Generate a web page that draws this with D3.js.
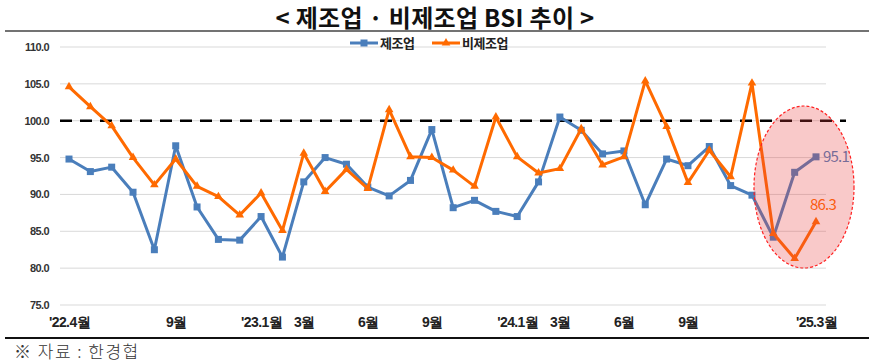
<!DOCTYPE html>
<html>
<head>
  <meta charset="utf-8">
  <title>제조업 · 비제조업 BSI 추이</title>
  <script src="https://d3js.org/d3.v7.min.js"></script>
  <style>
    body { margin: 0; background: #fff; }
    svg { display: block; font-family: "Noto Sans CJK KR", "Noto Sans", sans-serif; }
    .grid line { stroke: #d9d9d9; stroke-width: 1; }
    .line { fill: none; stroke-width: 3; stroke-linejoin: round; }
  </style>
</head>
<body>
  <div class="chart"></div>
  <script>
    // 월 (2022.4 ~ 2025.3)
    const months = d3.range(36);
    // x축 표시 라벨 (인덱스 -> 텍스트)
    const tickIndex = [0, 5, 9, 11, 14, 17, 21, 23, 26, 29, 35];
    const tickText = ["'22.4월", "9월", "'23.1월", "3월", "6월", "9월", "'24.1월", "3월", "6월", "9월", "'25.3월"];
    const yTicks = [75, 80, 85, 90, 95, 100, 105, 110];

    // 제조업 BSI
    const manufacturing = [94.8, 93.1, 93.7, 90.3, 82.5, 96.6, 88.3, 83.9, 83.8, 87.0,
      81.5, 91.7, 95.0, 94.1, 91.0, 89.8, 91.9, 98.8, 88.2, 89.2,
      87.7, 87.0, 91.7, 100.5, 98.7, 95.5, 95.9, 88.6, 94.8, 93.9,
      96.5, 91.2, 89.9, 84.2, 93.0, 95.1];
    // 비제조업 BSI
    const nonManufacturing = [104.6, 101.9, 99.3, 95.0, 91.3, 94.8, 91.1, 89.7, 87.2, 90.2,
      85.1, 95.6, 90.4, 93.4, 90.8, 101.5, 95.1, 95.0, 93.3, 91.1,
      100.5, 95.1, 92.9, 93.5, 98.9, 94.0, 95.1, 105.4, 99.2, 91.6,
      96.0, 92.4, 105.1, 84.7, 81.3, 86.3];

    const W = 874, H = 363;
    const svg = d3.select(".chart").append("svg")
      .attr("width", W).attr("height", H);

    // 제목
    svg.append("text")
      .attr("x", 435).attr("y", 27)
      .attr("text-anchor", "middle")
      .attr("font-size", 24).attr("font-weight", 700)
      .attr("letter-spacing", 0.3)
      .attr("fill", "#111")
      .text("< 제조업 · 비제조업 BSI 추이 >");
    svg.append("line")
      .attr("x1", 5).attr("x2", 869).attr("y1", 31).attr("y2", 31)
      .attr("stroke", "#444").attr("stroke-width", 1.5);

    const x = d3.scaleLinear().domain([0, 35]).range([69, 816]);
    const y = d3.scaleLinear().domain([75, 110]).range([305, 47]);

    // 격자선
    svg.append("g").attr("class", "grid")
      .selectAll("line").data(yTicks).join("line")
      .attr("x1", 60).attr("x2", 826)
      .attr("y1", d => y(d)).attr("y2", d => y(d));

    // y축
    const yAxis = svg.append("g")
      .attr("transform", "translate(52,0)")
      .call(d3.axisLeft(y).tickValues(yTicks).tickFormat(d3.format(".1f")).tickSize(0));
    yAxis.select(".domain").remove();
    yAxis.selectAll("text")
      .attr("font-size", 11).attr("font-weight", 700)
      .attr("letter-spacing", -0.6).attr("fill", "#333").attr("dx", 0);

    // x축 라벨
    const xAxis = svg.append("g")
      .attr("transform", "translate(0,314)")
      .call(d3.axisBottom(x).tickValues(tickIndex)
        .tickFormat((d, i) => tickText[i]).tickSize(0));
    xAxis.select(".domain").remove();
    xAxis.selectAll("text")
      .attr("font-size", 14).attr("font-weight", 700)
      .attr("letter-spacing", -0.6).attr("fill", "#222");

    // 기준선 100
    svg.append("line")
      .attr("x1", 60).attr("x2", 846)
      .attr("y1", y(100)).attr("y2", y(100))
      .attr("stroke", "#000").attr("stroke-width", 2.5)
      .attr("stroke-dasharray", "12,8");

    const line = d3.line().x((d, i) => x(i)).y(d => y(d));

    // 제조업
    svg.append("path").datum(manufacturing)
      .attr("class", "line").attr("stroke", "#4a7ebb").attr("d", line);
    svg.append("g").selectAll("rect").data(manufacturing).join("rect")
      .attr("x", (d, i) => x(i) - 3.5).attr("y", d => y(d) - 3.5)
      .attr("width", 7).attr("height", 7).attr("fill", "#4a7ebb");

    // 비제조업
    svg.append("path").datum(nonManufacturing)
      .attr("class", "line").attr("stroke", "#ff6a00").attr("d", line);
    svg.append("g").selectAll("path").data(nonManufacturing).join("path")
      .attr("transform", (d, i) => `translate(${x(i)},${y(d)})`)
      .attr("d", d3.symbol(d3.symbolTriangle, 32))
      .attr("fill", "#ff6a00");

    // 마지막 값 라벨
    svg.append("text")
      .attr("x", x(35) + 7).attr("y", y(manufacturing[35]) + 5)
      .attr("font-size", 15).attr("letter-spacing", -0.8)
      .attr("fill", "#4a7ebb").text(manufacturing[35].toFixed(1));
    svg.append("text")
      .attr("x", x(35) + 7).attr("y", y(nonManufacturing[35]) - 12)
      .attr("text-anchor", "middle")
      .attr("font-size", 15).attr("letter-spacing", -0.8)
      .attr("fill", "#ff6a00").text(nonManufacturing[35].toFixed(1));

    // 강조 타원
    svg.append("ellipse")
      .attr("cx", 804).attr("cy", 187).attr("rx", 50).attr("ry", 81)
      .attr("fill", "rgba(235,60,60,0.28)")
      .attr("stroke", "#ff2020").attr("stroke-width", 1.2)
      .attr("stroke-dasharray", "3,2");

    // 범례
    const legend = svg.append("g").attr("transform", "translate(350,43)");
    legend.append("line").attr("x1", 0).attr("x2", 28).attr("stroke", "#4a7ebb").attr("stroke-width", 3);
    legend.append("rect").attr("x", 10.5).attr("y", -3.5).attr("width", 7).attr("height", 7).attr("fill", "#4a7ebb");
    legend.append("text").attr("x", 30).attr("y", 5)
      .attr("font-size", 13).attr("font-weight", 700).attr("letter-spacing", -0.5).attr("fill", "#222").text("제조업");
    legend.append("line").attr("x1", 82).attr("x2", 110).attr("stroke", "#ff6a00").attr("stroke-width", 3);
    legend.append("path").attr("transform", "translate(96,0)")
      .attr("d", d3.symbol(d3.symbolTriangle, 32)).attr("fill", "#ff6a00");
    legend.append("text").attr("x", 112).attr("y", 5)
      .attr("font-size", 13).attr("font-weight", 700).attr("letter-spacing", -0.5).attr("fill", "#222").text("비제조업");

    // 하단선과 출처
    svg.append("line")
      .attr("x1", 5).attr("x2", 869).attr("y1", 338).attr("y2", 338)
      .attr("stroke", "#111").attr("stroke-width", 2);
    svg.append("text")
      .attr("x", 14).attr("y", 358)
      .attr("font-size", 17).attr("font-weight", 300)
      .attr("letter-spacing", 1.5).attr("fill", "#333")
      .text("※ 자료 : 한경협");
  </script>
</body>
</html>
